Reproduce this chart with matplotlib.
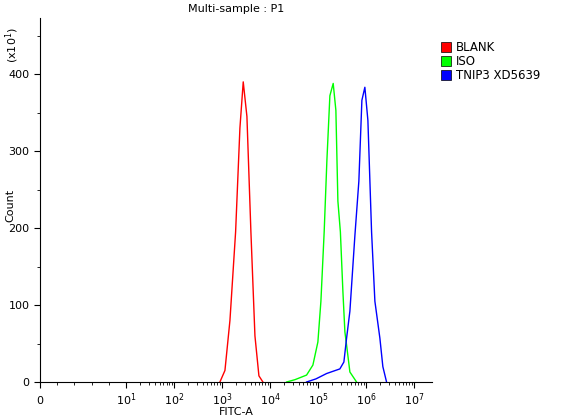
import numpy as np
import matplotlib
matplotlib.use("Agg")
import matplotlib.pyplot as plt
from matplotlib.patches import Patch

blank_x = [908, 1156, 1469, 1928, 2371, 2780, 3319, 4018, 4875, 5902, 7145]
blank_y = [0, 15, 80, 195, 330, 390, 345, 195, 60, 8, 0]
iso_x = [22280, 33200, 58100, 78700, 100000, 115600, 135200, 154100, 177800, 208500,
         237100, 261200, 294400, 331900, 365600, 401800, 464500, 640000]
iso_y = [0, 3, 9, 22, 52, 105, 195, 288, 372, 388, 353, 235, 195, 118, 65, 45, 13, 0]
tnip_x = [58100, 90800, 151700, 208500, 287100, 348300, 396300, 464500, 590200, 714500,
          826000, 953000, 1102000, 1315000, 1541000, 1959000, 2259000, 2698000]
tnip_y = [0, 4, 11, 14, 17, 26, 57, 92, 190, 261, 366, 383, 340, 195, 105, 57, 20, 0]
labels = ["BLANK", "ISO", "TNIP3 XD5639"]
colors = ["#ff0000", "#00ff00", "#0000ff"]

K = 86 / 48.0
def fwd(x):
    x = np.asarray(x, float)
    with np.errstate(divide="ignore", invalid="ignore"):
        lg = np.log10(np.maximum(x, 1e-9)) - 1 + K
    return np.where(x >= 10, lg, x / 10 * K)
def inv(p):
    p = np.asarray(p, float)
    return np.where(p >= K, 10 ** (p - K + 1), p / K * 10)

fig = plt.figure(figsize=(5.66, 4.2), dpi=100)
ax = fig.add_axes([40/566, 38/420, 392/566, 364/420])
ax.set_xscale("function", functions=(fwd, inv))
for xs, ys, c in zip([blank_x, iso_x, tnip_x], [blank_y, iso_y, tnip_y], colors):
    ax.plot(xs, ys, color=c, lw=1)
ax.set_xlim(0, inv(8.17))
ax.set_ylim(0, 473)
major = [0] + [10 ** k for k in range(1, 8)]
ax.set_xticks(major)
ax.set_xticklabels(["$\\mathregular{0}$"] + [f"$\\mathregular{{10^{k}}}$" for k in range(1, 8)], fontsize=8)
for t in ax.get_xticklabels():
    t.set_va("baseline")
minor = [m * 10 ** k for k in range(1, 7) for m in range(2, 10)] + [2, 4, 6, 8]
ax.set_xticks(minor, minor=True)
ax.set_yticks([0, 100, 200, 300, 400])
ax.set_yticks(range(50, 473, 50), minor=True)
ax.tick_params(labelsize=8, direction="out", length=4)
ax.tick_params(axis="x", which="major", pad=12)
ax.tick_params(which="minor", length=2)
for s in ["top", "right"]:
    ax.spines[s].set_visible(False)
ax.set_title("Multi-sample : P1", fontsize=8, pad=4)
fig.text(236/566, 1 - 412/420, "FITC-A", fontsize=8, ha="center", va="center")
fig.text(10/566, 1 - 205/420, "Count", rotation=90, fontsize=8, ha="center", va="center")
fig.text(12/566, 1 - 45/420, "(x10$^1$)", rotation=90, fontsize=8, ha="center", va="center")
handles = [Patch(facecolor=c, edgecolor="black", lw=0.5) for c in colors]
fig.legend(handles, labels, loc="upper left", bbox_to_anchor=(436/566, 1 - 36/420),
           frameon=False, fontsize=8.5, handlelength=0.9, handleheight=0.9,
           handletextpad=0.4, labelspacing=0.1, borderaxespad=0)
fig.savefig("out.png", dpi=100)
